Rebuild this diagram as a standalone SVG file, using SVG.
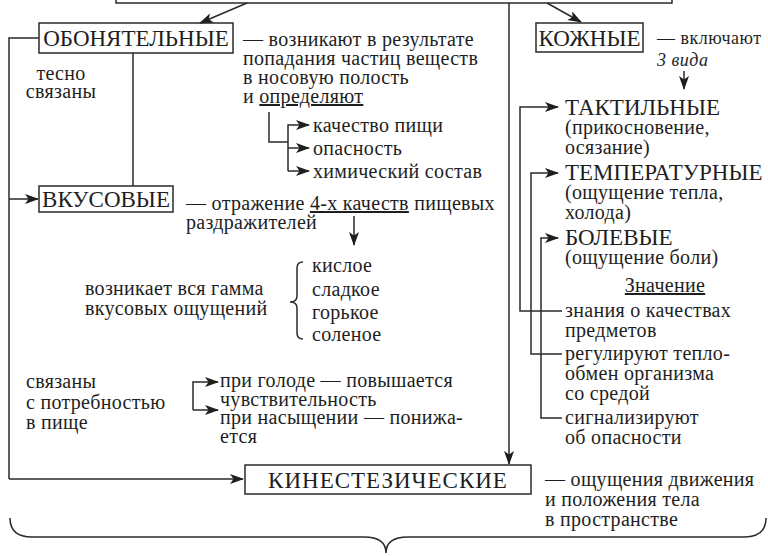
<svg xmlns="http://www.w3.org/2000/svg" width="768" height="556" viewBox="0 0 768 556">
<style>
  .bg { fill: #ffffff; }
  .box { fill: none; stroke: #2a2a2a; stroke-width: 1.5; }
  .ln { fill: none; stroke: #2a2a2a; stroke-width: 1.5; }
  .arr { fill: none; stroke: #2a2a2a; stroke-width: 1.5; marker-end: url(#ah); }
  text { font-family: "Liberation Serif", "Times New Roman", serif; fill: #1e1e1e; }
  .cap { font-size: 23px; }
  .t { font-size: 20px; letter-spacing: 0.3px; }
  .s { font-size: 18px; letter-spacing: 0.5px; }
  .it { font-style: italic; }
  .u { text-decoration: underline; }
</style>
<defs>
  <marker id="ah" viewBox="0 0 14 10" refX="13" refY="5" markerWidth="14" markerHeight="10" markerUnits="userSpaceOnUse" orient="auto">
    <path d="M0,0 L14,5 L0,10 L3.5,5 z" fill="#1e1e1e"/>
  </marker>
</defs>
<rect class="bg" x="0" y="0" width="768" height="556"/>

<!-- top box (only its lower edge is in view) -->
<g id="top">
  <rect class="box" x="116" y="-20" width="556" height="23"/>
</g>

<g id="connectors">
  <line class="arr" x1="247" y1="3" x2="200" y2="23"/>
  <line class="arr" x1="547" y1="3" x2="581" y2="22"/>
  <line class="arr" x1="509" y1="3" x2="509" y2="464"/>
  <!-- left spine -->
  <polyline class="ln" points="39,38 9,38 9,479"/>
  <polyline class="arr" points="9,479 243,479"/>
  <polyline class="arr" points="9,199 38,199"/>
  <line class="ln" x1="133" y1="53" x2="133" y2="186"/>
  <!-- определяют -->
  <polyline class="ln" points="269,112 269,142 288,142"/>
  <polyline class="arr" points="288,171 288,125 309,125"/>
  <line class="arr" x1="288" y1="148" x2="309" y2="148"/>
  <line class="arr" x1="288" y1="171" x2="309" y2="171"/>
  <!-- 4-х качеств -->
  <line class="arr" x1="354" y1="216" x2="354" y2="245"/>
  <!-- brace before the four tastes -->
  <path class="ln" d="M303,262 Q297,262 297,268 L297,296 Q297,302 290,302 Q297,302 297,308 L297,333 Q297,339 303,339"/>
  <!-- hunger branches -->
  <polyline class="arr" points="193,410 193,382 218,382"/>
  <polyline class="arr" points="193,410 218,410"/>
  <!-- skin -->
  <line class="arr" x1="684" y1="71" x2="684" y2="89"/>
  <polyline class="arr" points="562,311 520,311 520,107 558,107"/>
  <polyline class="arr" points="562,354 531,354 531,173 558,173"/>
  <polyline class="arr" points="562,418 541,418 541,238 558,238"/>
  <!-- bottom brace -->
  <path class="ln" d="M10,518 Q10,537 32,537 L364,537 Q386,537 386,553 Q386,537 408,537 L744,537 Q766,537 766,518"/>
</g>

<g id="obon">
  <rect class="box" x="39" y="23" width="194" height="30"/>
  <text class="cap" x="136" y="46" text-anchor="middle">ОБОНЯТЕЛЬНЫЕ</text>
  <text class="t" x="243" y="46">— возникают в результате</text>
  <text class="t" x="243" y="65">попадания частиц веществ</text>
  <text class="t" x="243" y="84">в носовую полость</text>
  <text class="t" x="243" y="103">и <tspan class="u">определяют</tspan></text>
  <text class="t" x="313" y="132">качество пищи</text>
  <text class="t" x="313" y="155">опасность</text>
  <text class="t" x="313" y="178">химический состав</text>
  <text class="t" x="61" y="80" text-anchor="middle">тесно</text>
  <text class="t" x="61" y="98" text-anchor="middle">связаны</text>
</g>

<g id="vkus">
  <rect class="box" x="39" y="186" width="134" height="26"/>
  <text class="cap" x="106" y="207" text-anchor="middle">ВКУСОВЫЕ</text>
  <text class="t" x="186" y="210">— отражение <tspan class="u">4-х качеств</tspan> пищевых</text>
  <text class="t" x="186" y="229">раздражителей</text>
  <text class="t" x="85" y="295">возникает вся гамма</text>
  <text class="t" x="85" y="315">вкусовых ощущений</text>
  <text class="t" x="312" y="272">кислое</text>
  <text class="t" x="312" y="296">сладкое</text>
  <text class="t" x="312" y="319">горькое</text>
  <text class="t" x="312" y="341">соленое</text>
  <text class="t" x="26" y="388">связаны</text>
  <text class="t" x="26" y="409">с потребностью</text>
  <text class="t" x="26" y="429">в пище</text>
  <text class="t" x="220" y="387">при голоде — повышается</text>
  <text class="t" x="220" y="406">чувствительность</text>
  <text class="t" x="220" y="424">при насыщении — понижа-</text>
  <text class="t" x="220" y="443">ется</text>
</g>

<g id="kozh">
  <rect class="box" x="536" y="23" width="107" height="29"/>
  <text class="cap" x="589.5" y="46" text-anchor="middle">КОЖНЫЕ</text>
  <text class="s" x="657" y="44">— включают</text>
  <text class="s it" x="657" y="66">3 вида</text>
  <text class="cap" x="565" y="115">ТАКТИЛЬНЫЕ</text>
  <text class="t" x="565" y="134">(прикосновение,</text>
  <text class="t" x="565" y="154">осязание)</text>
  <text class="cap" x="565" y="180">ТЕМПЕРАТУРНЫЕ</text>
  <text class="t" x="565" y="199">(ощущение тепла,</text>
  <text class="t" x="565" y="219">холода)</text>
  <text class="cap" x="565" y="245">БОЛЕВЫЕ</text>
  <text class="t" x="565" y="264">(ощущение боли)</text>
  <text class="t u" x="665" y="292" text-anchor="middle">Значение</text>
  <text class="t" x="565" y="317">знания о качествах</text>
  <text class="t" x="565" y="337">предметов</text>
  <text class="t" x="565" y="360">регулируют тепло-</text>
  <text class="t" x="565" y="380">обмен организма</text>
  <text class="t" x="565" y="400">со средой</text>
  <text class="t" x="565" y="424">сигнализируют</text>
  <text class="t" x="565" y="444">об опасности</text>
</g>

<g id="kin">
  <rect class="box" x="245" y="465" width="286" height="29"/>
  <text class="cap" x="388" y="488" text-anchor="middle" letter-spacing="1">КИНЕСТЕЗИЧЕСКИЕ</text>
  <text class="t" x="545" y="486">— ощущения движения</text>
  <text class="t" x="545" y="506">и положения тела</text>
  <text class="t" x="545" y="526">в пространстве</text>
</g>
</svg>
